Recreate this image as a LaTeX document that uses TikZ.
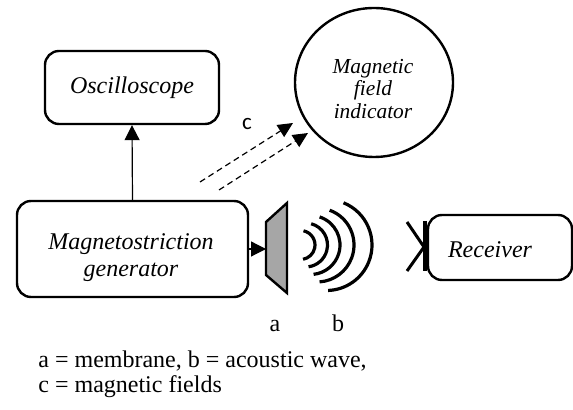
\documentclass[tikz,border=0pt]{standalone}
\usepackage{fontspec}
\setmainfont{Liberation Serif}
\newfontfamily\calibrifont{Carlito}
\usetikzlibrary{arrows.meta,positioning,shapes.geometric}
\definecolor{membranegray}{RGB}{166,166,166}

\begin{document}
\begin{tikzpicture}[x=0.5pt,y=-0.5pt,
    every node/.style={font=\fontsize{12}{13.5}\selectfont},
    blockbox/.style={draw,line width=1.2pt,rounded corners=7pt},
    blocktext/.style={align=center,font=\fontsize{12}{13.5}\selectfont\itshape},
    solidarrow/.style={-{Triangle[length=7.5pt,width=7.5pt]}},
    fieldarrow/.style={-{Triangle[length=7.5pt,width=7pt]},line width=0.6pt,
      dash pattern=on 3pt off 2pt}]
  \useasboundingbox (0,0) rectangle (573,410);

  % blocks
  \node[blockbox,minimum width=87pt,minimum height=36.5pt]
    (osc) at (132,87.5) {};
  \node[blocktext] (osctext) at (osc.center) {Oscilloscope};
  \node[blockbox,minimum width=115.5pt,minimum height=48pt]
    (gen) at (132.5,249) {};
  \node[blocktext] (gentext) at (131,258) {Magnetostriction\\generator};
  \node[blockbox,minimum width=72pt,minimum height=32.5pt]
    (rcv) at (500,247.5) {};
  \node[blocktext] (rcvtext) at (490,249.5) {Receiver};
  \node[draw,ellipse,line width=1.2pt,minimum width=79pt,minimum height=74.5pt]
    (mfi) at (374,82.5) {};
  \node[blocktext,font=\fontsize{10.7}{11.3}\selectfont\itshape]
    (mfitext) at (373,89) {Magnetic\\field\\indicator};

  % membrane (a)
  \draw[line width=1.2pt,fill=membranegray]
    (266,222) -- (287,203) -- (287,293) -- (266,275) -- cycle;
  \coordinate (memb) at (266,249);
  \draw[solidarrow,line width=0.6pt] (gen.east) -- (memb);
  \draw[solidarrow,line width=0.6pt] (gen.north) -- (osc.south);

  % acoustic wave (b)
  \foreach \r/\xr/\ta/\tb in {14.5/315/-78/80, 22/327.5/-75/82, 29.5/340/-72/84,
                              37/354/-70/86, 45.5/372/-68/88}
    \draw[line width=1.6pt] ({\xr-\r},245) ++(\ta:\r) arc[start angle=\ta,end angle=\tb,radius=\r];

  % receiver input
  \coordinate (rcvin) at (424,247);
  \draw[line width=1.5pt] (407,222) -- (rcvin) -- (407,271);
  \draw[line width=2pt] (425,221) -- (425,271);

  % magnetic fields (c)
  \coordinate (c1s) at (200,182);
  \coordinate (c1e) at (293,123);
  \coordinate (c2s) at (219,190);
  \coordinate (c2e) at (308,133);
  \draw[fieldarrow] (c1s) -- (c1e);
  \draw[fieldarrow] (c2s) -- (c2e);
  \node[font=\calibrifont\fontsize{11.5}{13}\selectfont] (clabel) at (247,124) {c};

  % labels
  \node[anchor=base] (alabel) at (275,332) {a};
  \node[anchor=base] (blabel) at (338,332) {b};
  \node[anchor=base west,inner sep=0pt] (cap1) at (38,367.5)
    {a = membrane, b = acoustic wave,};
  \node[anchor=base west,inner sep=0pt] (cap2) at (38,392.5)
    {c = magnetic fields};
\end{tikzpicture}
\end{document}
